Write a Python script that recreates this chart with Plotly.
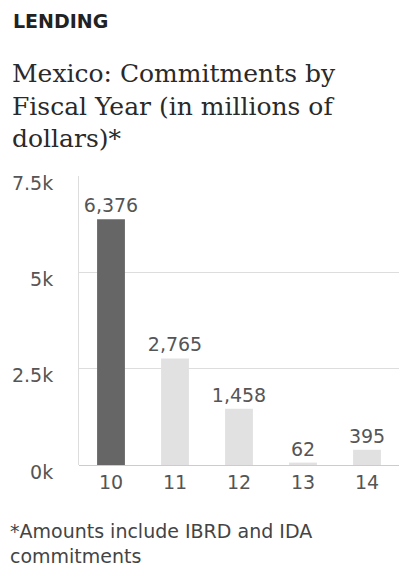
import plotly.graph_objects as go

# Fiscal years (two-digit) and commitments in millions of dollars
years = ["10", "11", "12", "13", "14"]
commitments = [6376, 2765, 1458, 62, 395]
bar_colors = ["#666666", "#e1e1e1", "#e1e1e1", "#e1e1e1", "#e1e1e1"]

y_ticks = [0, 2500, 5000, 7500]
y_tick_labels = ["0k", "2.5k", "5k", "7.5k"]

SANS = "DejaVu Sans, Verdana, sans-serif"
SERIF = "DejaVu Serif, Georgia, serif"

PLOT_TOP, PLOT_BOTTOM, PLOT_LEFT = 176, 465, 79
PLOT_H = PLOT_BOTTOM - PLOT_TOP
PLOT_W = 399 - PLOT_LEFT


def py(pixel_y):
    """Convert a page pixel row to a paper y coordinate."""
    return (PLOT_BOTTOM - pixel_y) / PLOT_H


def px(pixel_x):
    """Convert a page pixel column to a paper x coordinate."""
    return (pixel_x - PLOT_LEFT) / PLOT_W


fig = go.Figure(
    go.Bar(
        x=years,
        y=commitments,
        marker=dict(color=bar_colors, line=dict(width=0)),
        texttemplate="%{y:,}",
        textposition="outside",
        constraintext="none",
        cliponaxis=False,
        textfont=dict(family=SANS, size=19, color="#555555"),
        hoverinfo="skip",
    )
)

fig.update_layout(
    width=399,
    height=575,
    margin=dict(l=PLOT_LEFT, r=0, t=PLOT_TOP, b=575 - PLOT_BOTTOM),
    paper_bgcolor="white",
    plot_bgcolor="white",
    bargap=0.565,
    showlegend=False,
    font=dict(family=SANS, color="#555555"),
)

fig.update_xaxes(
    type="category",
    showgrid=False,
    showline=False,
    ticks="",
    ticklabelstandoff=4,
    tickfont=dict(size=19, color="#555555"),
)

fig.update_yaxes(
    range=[0, 7500],
    tickvals=y_ticks,
    ticktext=y_tick_labels,
    showgrid=True,
    gridcolor="#dddddd",
    gridwidth=1,
    zeroline=True,
    zerolinecolor="#cccccc",
    zerolinewidth=1,
    showline=True,
    linecolor="#dddddd",
    linewidth=1,
    ticks="",
    ticklabelstandoff=21,
    ticklabelshift=7,
    tickfont=dict(size=19, color="#555555"),
)

# Section label, headline and footnote
fig.add_annotation(
    text="<b>LENDING</b>", xref="paper", yref="paper",
    x=px(11), y=py(21), xanchor="left", yanchor="middle",
    showarrow=False,
    font=dict(family=SANS, size=19, color="#222222"),
)
fig.add_annotation(
    text="Mexico: Commitments by<br>Fiscal Year (in millions of<br>dollars)*",
    xref="paper", yref="paper",
    x=px(10), y=py(57), xanchor="left", yanchor="top",
    align="left", showarrow=False,
    font=dict(family=SERIF, size=25, color="#2a2a2a"),
)
fig.add_annotation(
    text="*Amounts include IBRD and IDA<br>commitments",
    xref="paper", yref="paper",
    x=px(8), y=py(518), xanchor="left", yanchor="top",
    align="left", showarrow=False,
    font=dict(family=SANS, size=19, color="#444444"),
)

fig.write_html("out.html")
